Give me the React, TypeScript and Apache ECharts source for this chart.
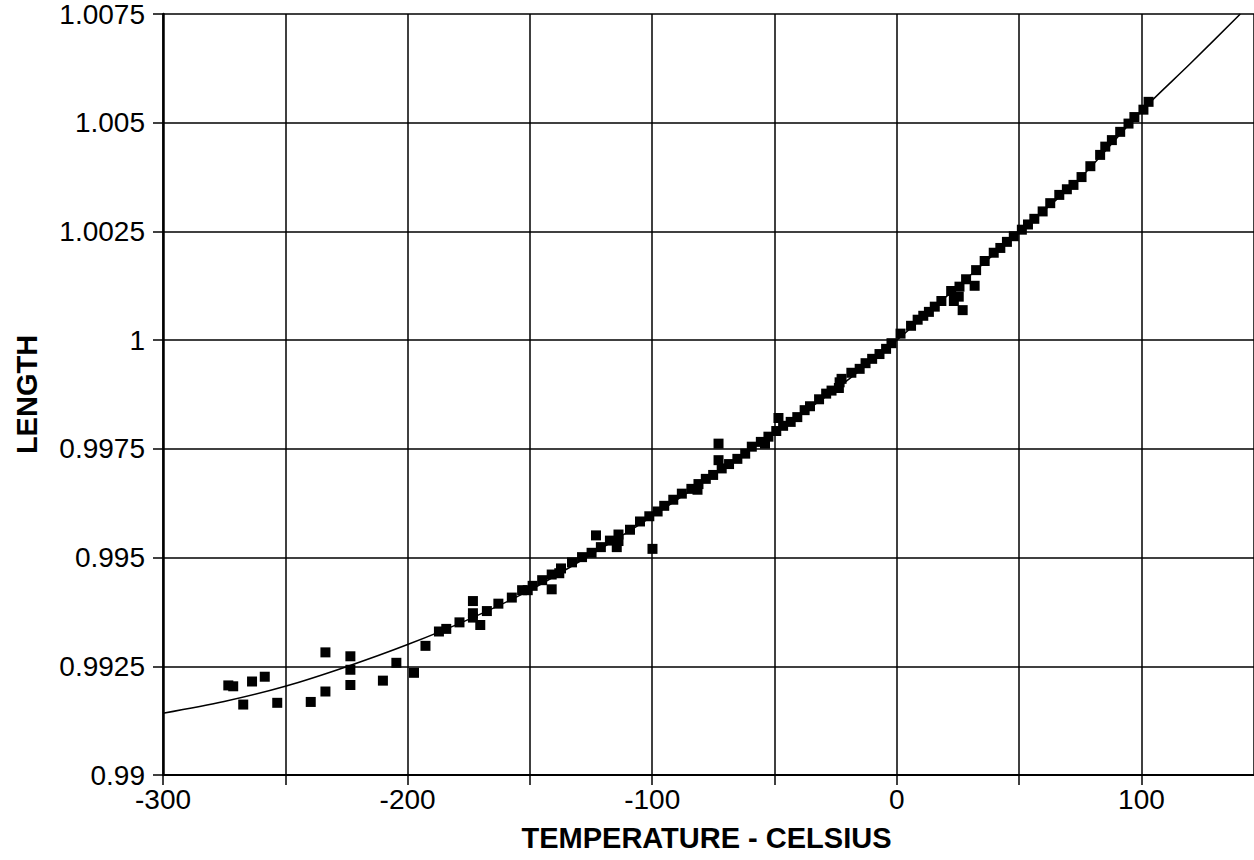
import React, { useEffect, useRef } from "react";
import * as echarts from "echarts";

const xTickStep = 50;
const yTickStep = 0.0025;
const xMin = -300;
const xMax = 146;
const yMin = 0.99;
const yMax = 1.0075;

const measuredTemp = [
  -273.3, -271.3, -267.2, -263.6, -258.4, -253.3, -239.6, -233.6, -233.6, -223.4,
  -223.4, -223.4, -210.1, -204.6, -197.4, -192.7, -187.2, -184.2, -178.8, -173.3,
  -173.3, -173.3, -170.3, -167.6, -162.9, -157.4, -153.2, -150.9, -148.9, -145.0,
  -141.1, -141.1, -138.0, -137.3, -132.8, -128.7, -124.8, -123.0, -121.0, -117.3,
  -113.8, -113.8, -114.5, -109.1, -105.0, -101.2, -99.9, -97.8, -95.1, -91.4,
  -87.9, -84.0, -81.5, -81.1, -78.1, -75.1, -72.9, -72.9, -71.6, -68.6,
  -65.2, -62.0, -59.3, -55.6, -53.9, -52.5, -49.3, -48.4, -46.5, -43.4,
  -40.7, -37.7, -35.5, -31.8, -28.9, -26.7, -23.7, -23.4, -22.6, -18.6,
  -15.2, -12.8, -10.1, -7.1, -4.4, -2.2, 1.5, 5.8, 8.5, 10.8,
  13.1, 15.5, 18.2, 22.2, 23.3, 25.3, 25.6, 26.9, 28.3, 31.8,
  32.4, 35.9, 39.6, 42.3, 45.0, 47.8, 51.1, 53.6, 56.2, 59.6,
  62.7, 66.4, 69.5, 72.2, 75.5, 79.1, 83.1, 85.2, 87.9, 91.3,
  94.7, 97.1, 100.8, 102.9,
];

const measuredLength = [
  0.99206, 0.99204, 0.99162, 0.99215, 0.99226, 0.99166, 0.99168, 0.99282, 0.99192, 0.99273,
  0.99242, 0.99207, 0.99217, 0.99258, 0.99235, 0.99297, 0.9933, 0.99336, 0.99351, 0.994,
  0.99372, 0.99362, 0.99345, 0.99377, 0.99394, 0.99408, 0.99425, 0.99425, 0.99435, 0.99448,
  0.99427, 0.99461, 0.99464, 0.99475, 0.99489, 0.99501, 0.99511, 0.99551, 0.99524, 0.99539,
  0.99553, 0.99538, 0.99524, 0.99564, 0.99583, 0.99595, 0.9952, 0.99606, 0.99619, 0.99633,
  0.99647, 0.99658, 0.99656, 0.99669, 0.99681, 0.9969, 0.99762, 0.99724, 0.99705, 0.99715,
  0.99727, 0.99739, 0.99755, 0.99766, 0.99762, 0.99778, 0.99791, 0.99821, 0.99803, 0.99812,
  0.99823, 0.99839, 0.99848, 0.99864, 0.99877, 0.99884, 0.9989, 0.99903, 0.99911, 0.99925,
  0.99934, 0.99947, 0.99957, 0.99968, 0.9998, 0.99993, 1.00015, 1.00033, 1.00047, 1.00056,
  1.00065, 1.00077, 1.0009, 1.00113, 1.0009, 1.001, 1.00123, 1.00069, 1.0014, 1.00125,
  1.00161, 1.00182, 1.00201, 1.00212, 1.00226, 1.00239, 1.00254, 1.00266, 1.00279, 1.00296,
  1.00315, 1.00334, 1.00347, 1.00357, 1.00375, 1.004, 1.00426, 1.00445, 1.0046, 1.00479,
  1.00498, 1.00513, 1.0053, 1.00548,
];

const fitTemp = [-300, -275, -250, -225, -200, -175, -150, -125, -100, -75, -50, -25, 0, 25, 50, 75, 100, 120, 140.4];
const fitLength = [
  0.99142, 0.99169, 0.99204, 0.99249, 0.993, 0.99358, 0.99425, 0.99507, 0.99595,
  0.9969, 0.99788, 0.99887, 1.0, 1.00124, 1.00249, 1.00373, 1.00527, 1.00636, 1.0075,
];

const xAxisTitle = "TEMPERATURE - CELSIUS";
const yAxisTitle = "LENGTH";

export default function App() {
  const ref = useRef<HTMLDivElement>(null);

  useEffect(() => {
    if (!ref.current) return;
    const chart = echarts.init(ref.current, null, { renderer: "svg" });
    const font = "'Liberation Sans', Arial, sans-serif";
    chart.setOption({
      animation: false,
      backgroundColor: "#ffffff",
      grid: { left: 163, right: -3, top: 10, bottom: 85, containLabel: false },
      xAxis: {
        type: "value",
        min: xMin,
        max: xMax,
        interval: xTickStep,
        name: xAxisTitle,
        nameLocation: "middle",
        nameGap: 48,
        nameTextStyle: { color: "#000", fontFamily: font, fontWeight: "bold", fontSize: 29, padding: [0, 0, 0, -4] },
        axisLine: { show: true, onZero: false, lineStyle: { color: "#000", width: 2 } },
        axisTick: { show: true, length: 10, lineStyle: { color: "#000", width: 1.5 } },
        axisLabel: {
          color: "#000",
          fontFamily: font,
          fontSize: 28,
          margin: 10,
          showMaxLabel: false,
          formatter: (v: number) => (Math.abs(v % 100) < 1e-9 ? String(v) : ""),
        },
        splitLine: { show: true, lineStyle: { color: "#000", width: 1.5 } },
      },
      yAxis: {
        type: "value",
        min: yMin,
        max: yMax,
        interval: yTickStep,
        name: yAxisTitle,
        nameLocation: "middle",
        nameGap: 122,
        nameRotate: 90,
        nameTextStyle: { color: "#000", fontFamily: font, fontWeight: "bold", fontSize: 29 },
        axisLine: { show: true, onZero: false, lineStyle: { color: "#000", width: 2.5 } },
        axisTick: { show: true, length: 10, lineStyle: { color: "#000", width: 1.5 } },
        axisLabel: {
          color: "#000",
          fontFamily: font,
          fontSize: 28,
          margin: 18,
          formatter: (v: number) => String(Number(v.toFixed(4))),
        },
        splitLine: { show: true, lineStyle: { color: "#000", width: 1.5 } },
      },
      series: [
        {
          type: "line",
          data: fitTemp.map((t, i) => [t, fitLength[i]]),
          smooth: 0.3,
          showSymbol: false,
          symbol: "none",
          lineStyle: { color: "#000", width: 1.5 },
          clip: true,
          z: 3,
        },
        {
          type: "scatter",
          data: measuredTemp.map((t, i) => [t, measuredLength[i]]),
          symbol: "rect",
          symbolSize: 10,
          itemStyle: { color: "#000", opacity: 1 },
          z: 4,
        },
      ],
    });
    return () => chart.dispose();
  }, []);

  return (
    <div style={{ position: "fixed", left: 0, top: 0, width: 1254, height: 860, overflow: "hidden", background: "#fff" }}>
      <div ref={ref} style={{ width: 1254, height: 860 }} />
    </div>
  );
}
